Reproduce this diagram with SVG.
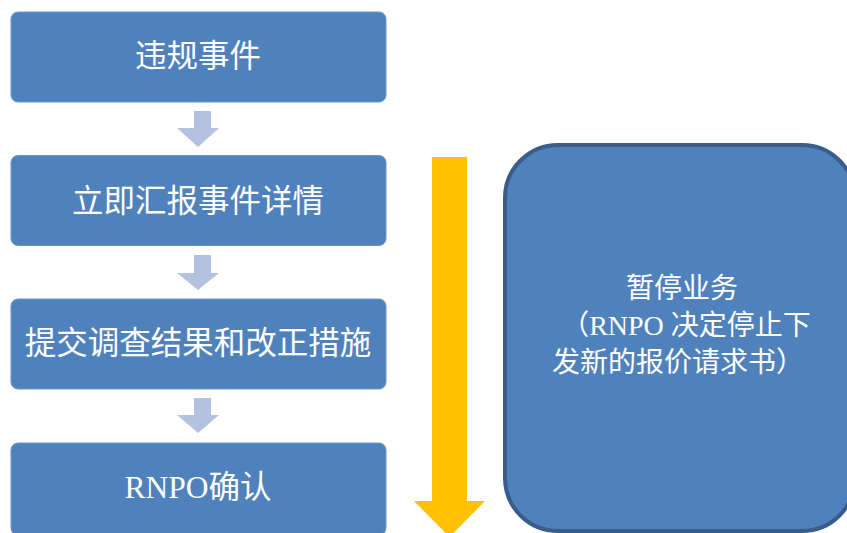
<svg xmlns="http://www.w3.org/2000/svg" width="847" height="533" viewBox="0 0 847 533">
<style>
.box{fill:#4F81BD;stroke:#6C95C8;stroke-width:1}
.t{font-family:"Liberation Serif","Noto Sans CJK SC",serif;fill:#FFFFFF;text-anchor:middle}
.small{fill:#B3C3DF}
</style>
<rect width="847" height="533" fill="#FFFFFF"/>
<g id="connectors">
<polygon class="small" points="194,111 211,111 211,128 219,128 198,147 177,128 194,128"/>
<polygon class="small" points="194,255 211,255 211,273 219,273 198,290 177,273 194,273"/>
<polygon class="small" points="194,398 211,398 211,415 219,415 198,433 177,415 194,415"/>
<polygon fill="#FFC000" points="432,157 467,157 467,501 485,501 449.5,537 414,501 432,501"/>
</g>
<g id="n1"><rect class="box" x="11" y="12" width="375" height="90" rx="7"/><text class="t" x="198" y="67" font-size="31.5">违规事件</text></g>
<g id="n2"><rect class="box" x="11" y="155.5" width="375" height="90" rx="7"/><text class="t" x="198" y="212" font-size="31.5">立即汇报事件详情</text></g>
<g id="n3"><rect class="box" x="11" y="299" width="375" height="90" rx="7"/><text class="t" x="198" y="354" font-size="31.5">提交调查结果和改正措施</text></g>
<g id="n4"><rect class="box" x="11" y="443" width="375" height="92" rx="7"/><text class="t" x="198" y="498" font-size="31.5">RNPO确认</text></g>
<g id="n5"><rect x="505" y="145" width="350" height="386" rx="53" fill="#4F81BD" stroke="#385D8A" stroke-width="4"/>
<text class="t" font-size="28"><tspan x="682" y="298">暂停业务</tspan><tspan x="686" y="335">（RNPO 决定停止下</tspan><tspan x="678" y="372">发新的报价请求书）</tspan></text></g>
</svg>
